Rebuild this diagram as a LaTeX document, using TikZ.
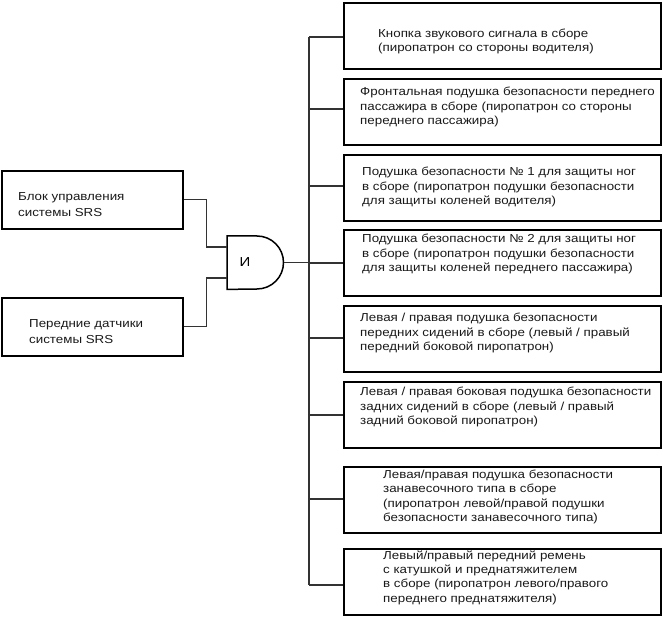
\documentclass[tikz,border=0pt]{standalone}
\usepackage{fontspec}
\setmainfont[FakeStretch=1.15]{Liberation Sans}
\begin{document}
\begin{tikzpicture}[x=1pt,y=-1pt,
  box/.style={draw=black, line width=1.7pt, inner sep=0pt, rectangle, anchor=north west},
  rbox/.style={box, minimum width=317pt, minimum height=66pt},
  lbox/.style={box, minimum width=181pt, minimum height=58pt},
  wire/.style={draw=black!80, line width=1.1pt},
  gateline/.style={draw=black, line width=1.5pt},
  txt/.style={align=left, inner sep=0pt, anchor=base west, font=\fontsize{11.6}{14.3}\selectfont, text=black!90},
  ltxt/.style={txt, font=\fontsize{11.6}{16.7}\selectfont}]
\useasboundingbox (0,0) rectangle (662,617);

% left boxes
\node[lbox] (l1) at (1,170) {};
\node[lbox] (l2) at (1,297) {};
% (base anchor = baseline of the last line)
\node[ltxt] (lt1) at (18,217) {Блок управления\\системы SRS};
\node[ltxt] (lt2) at (29,344) {Передние датчики\\системы SRS};

% gate
\node[inner sep=0pt, minimum width=57pt, minimum height=53pt, anchor=north west] (g) at (227,236) {};
\draw[gateline] (g.north west) -- ++(30,0) arc[start angle=90, end angle=-90, radius=26.5pt] -- (g.south west) -- cycle;
\node[font=\fontsize{13}{15}\selectfont, inner sep=0pt] (gl) at (245,262) {И};
\coordinate (in1) at (227,247);
\coordinate (in2) at (227,278);
\draw[wire] (l1.east) -- ++(23,0) |- (in1);
\draw[wire] (l2.east) -- ++(23,0) |- (in2);

% bus
\coordinate (bt) at (309,37);
\coordinate (bb) at (309,585);
\draw[wire] (bt) -- (bb);
\draw[wire] (g.east) -- (g.east -| bt);

% right boxes
\node[rbox] (r1) at (343,2) {};
\node[rbox] (r2) at (343,78) {};
\node[rbox] (r3) at (343,154) {};
\node[rbox] (r4) at (343,229) {};
\node[rbox] (r5) at (343,305) {};
\node[rbox] (r6) at (343,381) {};
\node[rbox] (r7) at (343,466) {};
\node[rbox] (r8) at (343,548) {};

\coordinate (c1) at (309,37);
\coordinate (c2) at (309,109);
\coordinate (c3) at (309,186);
\coordinate (c4) at (309,263);
\coordinate (c5) at (309,338);
\coordinate (c6) at (309,415);
\coordinate (c7) at (309,499);
\coordinate (c8) at (309,585);
\foreach \i in {1,...,8} {\draw[wire] (c\i) -- (c\i -| r\i.west);}

\node[txt] (t1) at (378,51.5) {Кнопка звукового сигнала в сборе\\(пиропатрон со стороны водителя)};
\node[txt] (t2) at (360,124.5) {Фронтальная подушка безопасности переднего\\пассажира в сборе (пиропатрон со стороны\\переднего пассажира)};
\node[txt] (t3) at (362,204.5) {Подушка безопасности № 1 для защиты ног\\в сборе (пиропатрон подушки безопасности\\для защиты коленей водителя)};
\node[txt] (t4) at (362,271.5) {Подушка безопасности № 2 для защиты ног\\в сборе (пиропатрон подушки безопасности\\для защиты коленей переднего пассажира)};
\node[txt] (t5) at (360,350.5) {Левая / правая подушка безопасности\\передних сидений в сборе (левый / правый\\передний боковой пиропатрон)};
\node[txt] (t6) at (360,424.5) {Левая / правая боковая подушка безопасности\\задних сидений в сборе (левый / правый\\задний боковой пиропатрон)};
\node[txt] (t7) at (383,521.5) {Левая/правая подушка безопасности\\занавесочного типа в сборе\\(пиропатрон левой/правой подушки\\безопасности занавесочного типа)};
\node[txt] (t8) at (383,602) {Левый/правый передний ремень\\с катушкой и преднатяжителем\\в сборе (пиропатрон левого/правого\\переднего преднатяжителя)};
\end{tikzpicture}
\end{document}
